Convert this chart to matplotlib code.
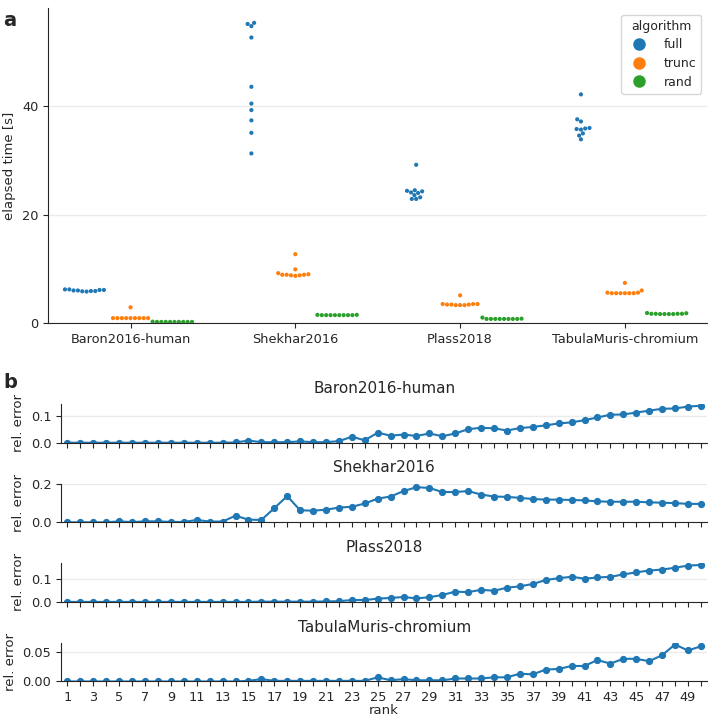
import numpy as np
import pandas as pd
import matplotlib
matplotlib.use("Agg")
import matplotlib.pyplot as plt
import seaborn as sns
from matplotlib.lines import Line2D

sns.set_style("ticks")
plt.rcParams['font.family'] = ['DejaVu Sans']

datasets = ["Baron2016-human", "Shekhar2016", "Plass2018", "TabulaMuris-chromium"]
algorithms = ["full", "trunc", "rand"]
colors = ["#1f77b4", "#ff7f0e", "#2ca02c"]

# elapsed time [s], 10 runs per dataset/algorithm
baron_full = [6.2, 6.2, 6.1, 6.0, 5.9, 5.8, 5.85, 5.9, 6.0, 6.1]
baron_trunc = [2.9, 0.9, 0.9, 0.9, 0.9, 0.9, 0.9, 0.9, 0.9, 0.9]
baron_rand = [0.25, 0.2, 0.2, 0.2, 0.2, 0.2, 0.2, 0.2, 0.2, 0.2]
shekhar_full = [55.2, 54.8, 55.4, 52.7, 43.6, 40.5, 39.3, 37.4, 35.1, 31.3]
shekhar_trunc = [12.7, 9.9, 9.2, 9.0, 8.9, 8.8, 8.7, 8.8, 8.9, 8.9]
shekhar_rand = [1.5, 1.5, 1.45, 1.45, 1.45, 1.45, 1.45, 1.45, 1.45, 1.45]
plass_full = [29.2, 24.4, 24.0, 23.6, 24.1, 24.3, 24.5, 22.9, 22.9, 23.2]
plass_trunc = [5.1, 3.5, 3.4, 3.3, 3.3, 3.3, 3.4, 3.4, 3.5, 3.5]
plass_rand = [1.0, 0.8, 0.75, 0.75, 0.75, 0.75, 0.75, 0.75, 0.75, 0.75]
tabula_full = [42.2, 37.6, 37.2, 35.8, 35.7, 35.0, 34.6, 33.9, 35.9, 36.0]
tabula_trunc = [7.4, 6.0, 5.5, 5.5, 5.5, 5.5, 5.5, 5.5, 5.6, 5.6]
tabula_rand = [1.8, 1.7, 1.7, 1.65, 1.65, 1.65, 1.65, 1.7, 1.7, 1.85]

times = {
    "Baron2016-human": [baron_full, baron_trunc, baron_rand],
    "Shekhar2016": [shekhar_full, shekhar_trunc, shekhar_rand],
    "Plass2018": [plass_full, plass_trunc, plass_rand],
    "TabulaMuris-chromium": [tabula_full, tabula_trunc, tabula_rand],
}

# relative error per rank
ranks = list(range(1, 51))
err_baron = [0, 0, 0, 0, 0, 0, 0, 0, 0, 0, 0, 0, 0, 0.001, 0.008, 0.002, 0.002, 0.002,
             0.005, 0.002, 0.002, 0.006, 0.022, 0.009, 0.037, 0.026, 0.030, 0.025, 0.034,
             0.024, 0.034, 0.050, 0.055, 0.053, 0.045, 0.054, 0.058, 0.064, 0.071, 0.075,
             0.083, 0.093, 0.103, 0.104, 0.111, 0.118, 0.125, 0.126, 0.133, 0.136]
err_shekhar = [0, 0, 0, 0, 0.005, 0.001, 0.005, 0.005, 0.002, 0.002, 0.012, 0.004, 0.004,
               0.034, 0.014, 0.012, 0.073, 0.135, 0.062, 0.060, 0.065, 0.076, 0.080, 0.097,
               0.122, 0.133, 0.161, 0.181, 0.177, 0.156, 0.156, 0.161, 0.143, 0.133, 0.131,
               0.126, 0.120, 0.117, 0.117, 0.115, 0.113, 0.108, 0.106, 0.106, 0.106, 0.103,
               0.101, 0.099, 0.095, 0.095]
err_plass = [0, 0, 0, 0, 0, 0, 0, 0, 0, 0, 0, 0, 0, 0, 0, 0.001, 0.001, 0.001, 0.001,
             0.001, 0.002, 0.003, 0.008, 0.008, 0.014, 0.017, 0.021, 0.015, 0.020, 0.030,
             0.044, 0.042, 0.052, 0.048, 0.061, 0.067, 0.077, 0.094, 0.102, 0.108, 0.100,
             0.105, 0.108, 0.118, 0.127, 0.135, 0.139, 0.147, 0.156, 0.159]
err_tabula = [0, 0, 0, 0, 0, 0, 0, 0, 0, 0, 0, 0, 0, 0, 0.001, 0.004, 0.001, 0.001, 0.001,
              0.001, 0.001, 0.001, 0.001, 0.001, 0.007, 0.002, 0.004, 0.002, 0.002, 0.002,
              0.005, 0.005, 0.005, 0.007, 0.007, 0.013, 0.012, 0.020, 0.021, 0.026, 0.026,
              0.036, 0.030, 0.038, 0.038, 0.034, 0.044, 0.062, 0.052, 0.059]
rel_errors = [err_baron, err_shekhar, err_plass, err_tabula]
yticks_b = [[0.0, 0.1], [0.0, 0.2], [0.0, 0.1], [0.0, 0.05]]
yfmt_b = ["%.1f", "%.1f", "%.1f", "%.2f"]

rows = []
for ds in datasets:
    for alg, vals in zip(algorithms, times[ds]):
        for v in vals:
            rows.append((ds, alg, v))
df = pd.DataFrame(rows, columns=["dataset", "algorithm", "time"])

fig = plt.figure(figsize=(7.08, 7.2), dpi=100)
txtc = "#262626"

# ---- panel a ----
axa = fig.add_axes([0.068, 0.5514, 0.931, 0.4376])
sns.swarmplot(data=df, x="dataset", y="time", hue="algorithm", order=datasets,
              hue_order=algorithms, palette=colors, dodge=True, size=3.0, ax=axa,
              legend=False)
axa.set_ylim(0, None)
axa.set_xlim(-0.5, 3.5)
axa.set_yticks([0, 20, 40])
axa.yaxis.grid(True, color="#ebebeb", lw=1.0)
axa.set_axisbelow(True)
axa.set_xlabel("")
axa.set_ylabel("elapsed time [s]", fontsize=9.5, color=txtc)
axa.tick_params(labelsize=9.3, colors=txtc)
sns.despine(ax=axa)
handles = [Line2D([], [], marker="o", ls="", color=c, markersize=8) for c in colors]
leg = axa.legend(handles, algorithms, title="algorithm", loc="upper right",
                 bbox_to_anchor=(0.991, 0.978), fontsize=9, title_fontsize=9,
                 frameon=True, handlelength=2.0, handletextpad=1.0, borderpad=0.4,
                 labelspacing=0.45, borderaxespad=0)
fig.text(0.005, 0.985, "a", fontsize=14, fontweight="bold", va="top")

# ---- panel b ----
gs = fig.add_gridspec(4, 1, left=0.0862, right=0.999, top=0.439, bottom=0.0535,
                      hspace=1.05)
for i, ds in enumerate(datasets):
    ax = fig.add_subplot(gs[i])
    ax.plot(ranks, rel_errors[i], "-o", color=colors[0], lw=1.5, ms=4.2)
    ax.set_xlim(0.5, 50.5)
    ax.set_ylim(0, None)
    ax.set_yticks(yticks_b[i])
    ax.set_yticklabels([yfmt_b[i] % t for t in yticks_b[i]])
    ax.yaxis.grid(True, color="#ebebeb", lw=1.0)
    ax.set_axisbelow(True)
    ax.set_xticks(ranks)
    if i == 3:
        ax.set_xticklabels([str(r) if r % 2 == 1 else "" for r in ranks])
        ax.set_xlabel("rank", fontsize=9.5, color=txtc, labelpad=0)
    else:
        ax.set_xticklabels([])
    ax.set_ylabel("rel. error", fontsize=9.5, color=txtc)
    ax.set_title(ds, fontsize=11, color=txtc, pad=8)
    ax.tick_params(labelsize=9.3, colors=txtc)
    sns.despine(ax=ax)
fig.text(0.005, 0.482, "b", fontsize=14, fontweight="bold", va="top")

fig.savefig("out.png", dpi=100)
